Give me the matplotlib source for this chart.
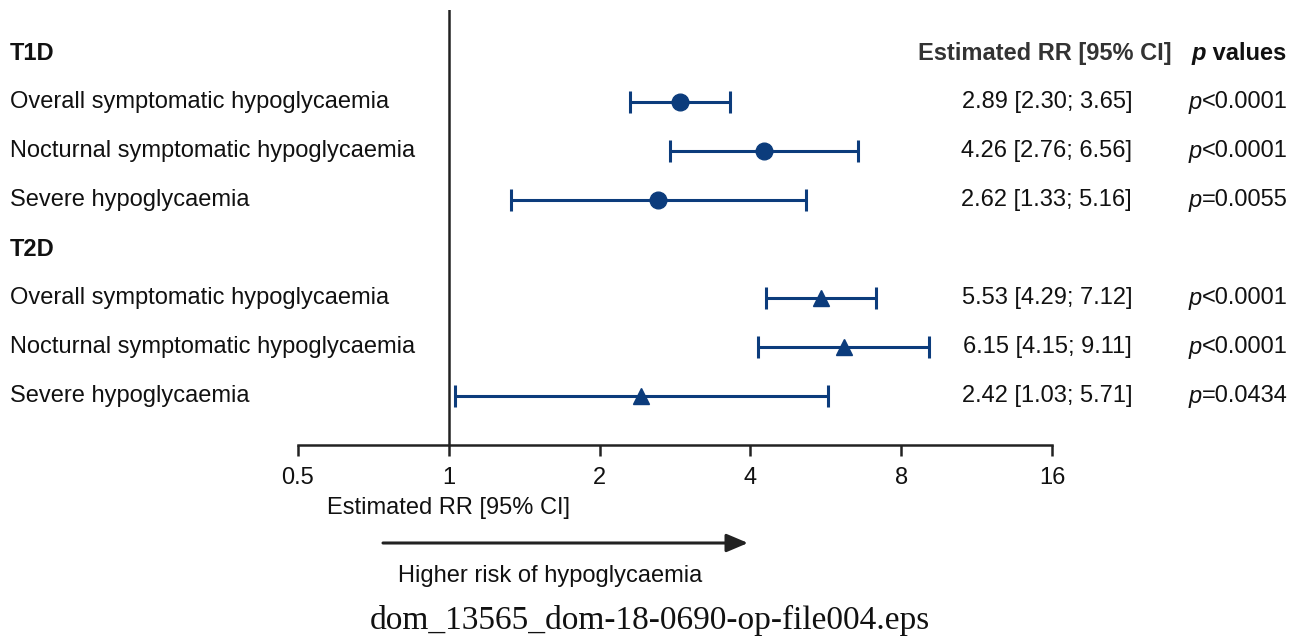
import matplotlib
matplotlib.use("Agg")
import matplotlib.pyplot as plt
import numpy as np

# ---- data ----
groups = ["T1D", "T2D"]
outcomes = ["Overall symptomatic hypoglycaemia",
            "Nocturnal symptomatic hypoglycaemia",
            "Severe hypoglycaemia"]
t1d_rr = [2.89, 4.26, 2.62]
t1d_lo = [2.30, 2.76, 1.33]
t1d_hi = [3.65, 6.56, 5.16]
t1d_p = ["<0.0001", "<0.0001", "=0.0055"]
t2d_rr = [5.53, 6.15, 2.42]
t2d_lo = [4.29, 4.15, 1.03]
t2d_hi = [7.12, 9.11, 5.71]
t2d_p = ["<0.0001", "<0.0001", "=0.0434"]
xticks = [0.5, 1, 2, 4, 8, 16]
xtick_labels = ["0.5", "1", "2", "4", "8", "16"]

W, H = 1304, 639
fig = plt.figure(figsize=(W / 100, H / 100), dpi=100)
plt.rcParams['font.family'] = ['Liberation Sans', 'DejaVu Sans']

ax_left, ax_right = 298, 1052
ax_top, ax_bot = 10, 445
ax = fig.add_axes([ax_left / W, 1 - ax_bot / H, (ax_right - ax_left) / W, (ax_bot - ax_top) / H])
ax.set_xscale('log', base=2)
ax.set_xlim(0.5, 16)
ax.set_ylim(8, -0.88)

navy = "#0c3c7c"
ink = "#111111"
fs = 17

for side in ["top", "right", "left"]:
    ax.spines[side].set_visible(False)
ax.spines["bottom"].set_linewidth(1.8)
ax.spines["bottom"].set_color("#222222")
ax.set_yticks([])
ax.set_xticks(xticks)
ax.set_xticklabels(xtick_labels, fontsize=fs)
ax.xaxis.set_minor_locator(matplotlib.ticker.NullLocator())
ax.tick_params(axis='x', direction='out', length=8, width=1.8, color="#222222", pad=8,
               labelcolor=ink)
ax.axvline(1, color="#222222", lw=1.8, zorder=1)

fig_tr = fig.transFigure
lab_tr = matplotlib.transforms.blended_transform_factory(fig_tr, ax.transData)


def fx(px):
    return px / W


def p_text(x_px, y, rest, bold=False):
    t = ax.text(fx(x_px), y, "p", transform=lab_tr, fontsize=fs, fontstyle='italic',
                fontweight='bold' if bold else 'normal', ha='left', va='center', color=ink)
    ax.annotate(rest, xy=(1, 0.5), xycoords=t, fontsize=fs,
                fontweight='bold' if bold else 'normal', ha='left', va='center', color=ink)


y = 0
for g, rr, lo, hi, pv, marker in [("T1D", t1d_rr, t1d_lo, t1d_hi, t1d_p, "o"),
                                  ("T2D", t2d_rr, t2d_lo, t2d_hi, t2d_p, "^")]:
    ax.text(fx(10), y, g, transform=lab_tr, fontsize=fs, fontweight='bold',
            ha='left', va='center', color=ink)
    y += 1
    for i in range(3):
        ax.text(fx(10), y, outcomes[i], transform=lab_tr, fontsize=fs,
                ha='left', va='center', color=ink)
        ax.errorbar([rr[i]], [y], xerr=[[rr[i] - lo[i]], [hi[i] - rr[i]]],
                    fmt=marker, color=navy, ecolor=navy, elinewidth=2.2,
                    capsize=8, capthick=2.2, markersize=12,
                    clip_on=False, zorder=3)
        ax.text(fx(1132), y, f"{rr[i]:.2f} [{lo[i]:.2f}; {hi[i]:.2f}]", transform=lab_tr,
                fontsize=fs, ha='right', va='center', color=ink)
        p_text(1189, y, pv[i])
        y += 1

# headers
ax.text(fx(1172), 0, "Estimated RR [95% CI]", transform=lab_tr, fontsize=fs,
        fontweight='bold', ha='right', va='center', color="#333333")
p_text(1192, 0, " values", bold=True)

# axis label and arrow
blend_x = matplotlib.transforms.blended_transform_factory(ax.transData, fig_tr)
ax.text(1, 1 - 508 / H, "Estimated RR [95% CI]", transform=blend_x, fontsize=fs,
        ha='center', va='center', color=ink)
ax.annotate("", xy=(fx(748), 1 - 543 / H), xytext=(fx(383), 1 - 543 / H),
            xycoords=fig_tr, textcoords=fig_tr,
            arrowprops=dict(arrowstyle="-|>,head_length=1.3,head_width=0.55",
                            color="#222222", lw=2.2, shrinkA=0, shrinkB=0))
fig.text(fx(550), 1 - 576 / H, "Higher risk of hypoglycaemia", fontsize=fs,
         ha='center', va='center', color=ink)
fig.text(fx(650), 1 - 620 / H, "dom_13565_dom-18-0690-op-file004.eps", fontsize=24,
         family=['Liberation Serif', 'DejaVu Serif'], ha='center', va='center',
         color=ink)

fig.savefig("out.png", dpi=100)
